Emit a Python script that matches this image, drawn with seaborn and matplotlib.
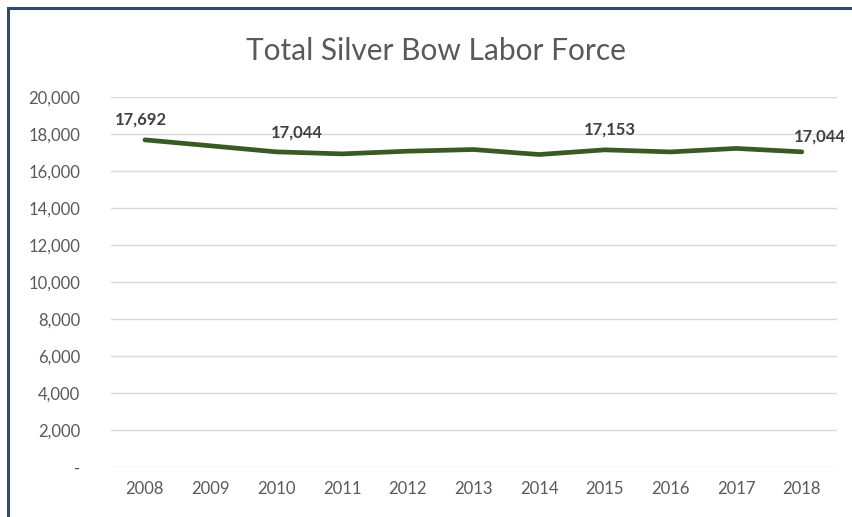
import matplotlib
matplotlib.use("Agg")
import matplotlib.pyplot as plt
import seaborn as sns
import pandas as pd
from matplotlib.lines import Line2D
from matplotlib.ticker import FuncFormatter

years = [2008, 2009, 2010, 2011, 2012, 2013, 2014, 2015, 2016, 2017, 2018]
labor_force = [17692, 17370, 17044, 16935, 17080, 17170, 16900, 17153, 17040, 17230, 17044]
labeled_years = [2008, 2010, 2015, 2018]
y_ticks = [0, 2000, 4000, 6000, 8000, 10000, 12000, 14000, 16000, 18000, 20000]
title = "Total Silver Bow Labor Force"

sns.set_theme(style="white")
plt.rcParams['font.family'] = ['Lato', 'DejaVu Sans']

df = pd.DataFrame({"year": years, "value": labor_force})

fig = plt.figure(figsize=(8.52, 5.17), dpi=100)
ax = fig.add_axes([0.130, 0.0967, 0.852, 0.7153])

sns.lineplot(data=df, x="year", y="value", ax=ax, color="#3A5A24",
             linewidth=3.4, solid_capstyle="round", solid_joinstyle="round")

ax.set_ylim(0, 20000)
ax.set_xlim(2007.48, 2018.53)
ax.set_yticks(y_ticks)
ax.set_xticks(years)
ax.yaxis.set_major_formatter(FuncFormatter(lambda v, p: "-" if v == 0 else f"{int(v):,}"))
ax.grid(axis="y", color="#d9d9d9", linewidth=1)
ax.grid(axis="x", visible=False)
for s in ax.spines.values():
    s.set_visible(False)
ax.tick_params(axis="both", length=0, labelsize=12, labelcolor="#595959")
ax.tick_params(axis="y", pad=22)
ax.tick_params(axis="x", pad=10)
ax.set_xlabel("")
ax.set_ylabel("")

for yr, v in zip(years, labor_force):
    if yr in labeled_years:
        dx = {2008: -3, 2010: 15, 2015: 4, 2018: 13}[yr]
        dy = {2008: 9, 2010: 8, 2015: 9, 2018: 5}[yr]
        ax.annotate(f"{v:,}", (yr, v), xytext=(dx, dy), textcoords="offset points",
                    ha="center", va="bottom", fontsize=12, fontweight="bold",
                    color="#404040")

fig.text(0.512, 0.902, title, ha="center", va="center", fontsize=21.5,
         color="#595959", fontweight="normal")

# outer frame (left and top edges visible)
fig.add_artist(Line2D([7.5 / 852, 7.5 / 852], [0, 1 - 7.5 / 517],
                      transform=fig.transFigure, color="#2F4B74", linewidth=2.2,
                      solid_capstyle="projecting"))
fig.add_artist(Line2D([7.5 / 852, 1], [1 - 7.5 / 517, 1 - 7.5 / 517],
                      transform=fig.transFigure, color="#2F4B74", linewidth=2.2,
                      solid_capstyle="projecting"))

fig.savefig("out.png", dpi=100)
